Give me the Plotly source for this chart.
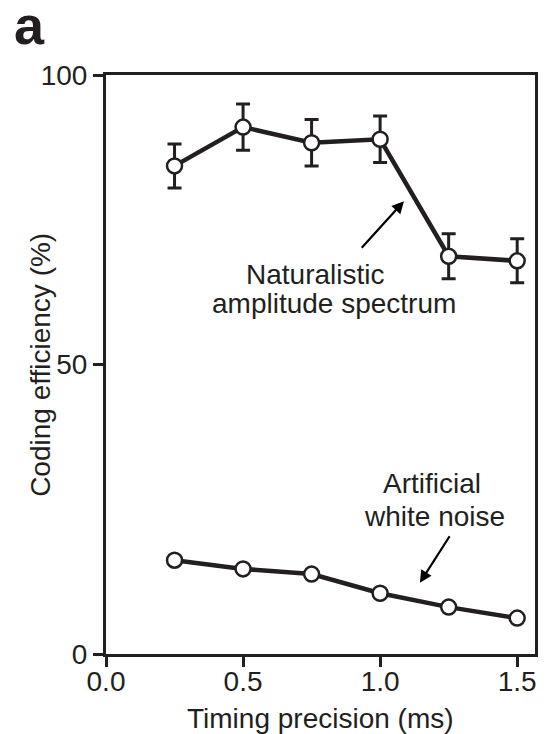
import plotly.graph_objects as go

# Timing precision (ms)
precision = [0.25, 0.5, 0.75, 1.0, 1.25, 1.5]

# Coding efficiency (%) for naturalistic amplitude spectrum stimuli, with error
naturalistic = [84.3, 91.0, 88.3, 88.9, 68.7, 67.9]
naturalistic_err = [3.8, 4.0, 4.0, 4.0, 3.9, 3.8]

# Coding efficiency (%) for artificial white noise stimuli
white_noise = [16.2, 14.7, 13.8, 10.5, 8.1, 6.2]

x_ticks = [0.0, 0.5, 1.0, 1.5]
y_ticks = [0, 50, 100]

INK = "#231f20"
FONT = "Liberation Sans, Arial, sans-serif"
FS = 28

marker = dict(size=15, color="white", line=dict(color=INK, width=2.5))

fig = go.Figure()
fig.add_trace(go.Scatter(
    x=precision, y=naturalistic, mode="lines+markers",
    line=dict(color=INK, width=4.5), marker=marker,
    error_y=dict(type="data", array=naturalistic_err, color=INK,
                 thickness=3, width=7),
    showlegend=False, cliponaxis=False,
))
fig.add_trace(go.Scatter(
    x=precision, y=white_noise, mode="lines+markers",
    line=dict(color=INK, width=4.5), marker=marker,
    showlegend=False, cliponaxis=False,
))

axis_common = dict(
    showline=True, linecolor=INK, linewidth=3, mirror=True,
    ticks="outside", ticklen=10, tickwidth=3, tickcolor=INK,
    showgrid=False, zeroline=False,
    tickfont=dict(family=FONT, size=FS, color=INK),
)

fig.update_xaxes(range=[0, 1.565], tickvals=x_ticks,
                 ticktext=[f"{v:.1f}" for v in x_ticks],
                 ticklabelstandoff=-10, **axis_common)
fig.update_yaxes(range=[0, 100], tickvals=y_ticks, **axis_common)

text_font = dict(family=FONT, size=FS, color=INK)
annotations = [
    dict(x=0.764, y=65.5, text="Naturalistic"),
    dict(x=0.830, y=60.6, text="amplitude spectrum"),
    dict(x=1.188, y=29.5, text="Artificial"),
    dict(x=1.197, y=23.7, text="white noise"),
]
for a in annotations:
    fig.add_annotation(xref="x", yref="y", showarrow=False,
                       xanchor="center", yanchor="middle", font=text_font, **a)

# Pointer arrows from the labels to their curves
fig.add_annotation(xref="x", yref="y", axref="x", ayref="y",
                   x=1.087, y=78.2, ax=0.928, ay=69.9, text="",
                   showarrow=True, arrowhead=2, arrowsize=1.1,
                   arrowwidth=2.2, arrowcolor="black")
fig.add_annotation(xref="x", yref="y", axref="x", ayref="y",
                   x=1.145, y=12.3, ax=1.257, ay=20.6, text="",
                   showarrow=True, arrowhead=2, arrowsize=1.1,
                   arrowwidth=2.2, arrowcolor="black")

# Axis titles
fig.add_annotation(xref="paper", yref="paper", x=0.5, y=-0.112,
                   text="Timing precision (ms)", showarrow=False,
                   xanchor="center", yanchor="middle", font=text_font)
fig.add_annotation(xref="paper", yref="paper", x=-0.153, y=0.5,
                   text="Coding efficiency (%)", showarrow=False,
                   textangle=-90, xanchor="center", yanchor="middle",
                   font=text_font)

# Panel letter
fig.add_annotation(xref="paper", yref="paper", x=-0.178, y=1.0,
                   yshift=18, text="<b>a</b>", showarrow=False,
                   xanchor="center", yanchor="bottom",
                   font=dict(family=FONT, size=54, color=INK))

fig.update_layout(
    width=547, height=734,
    margin=dict(l=106, r=9, t=75, b=80),
    paper_bgcolor="white", plot_bgcolor="white",
)

fig.write_html("out.html")
